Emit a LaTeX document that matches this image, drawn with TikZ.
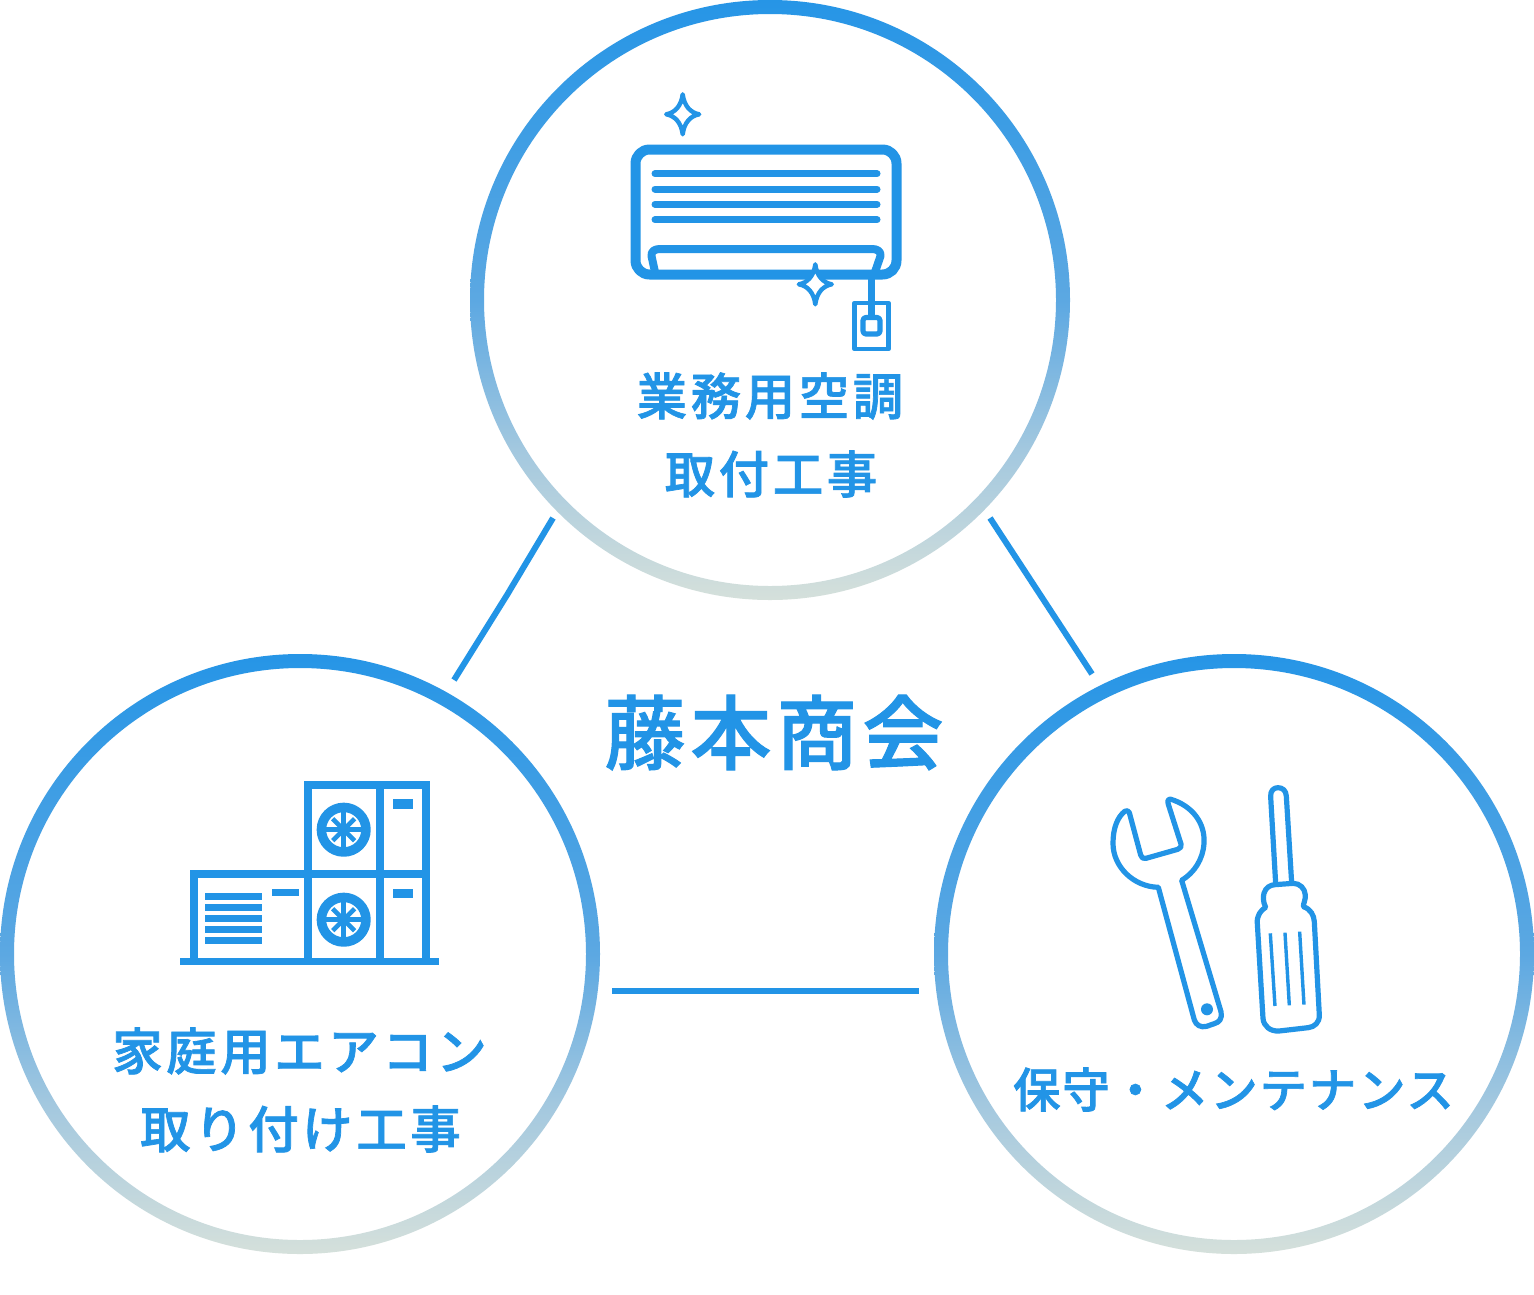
\documentclass[tikz,border=0pt]{standalone}
\usepackage{fontspec}
\newfontfamily\jpfont[LetterSpace=7.2]{Noto Sans CJK JP Medium}
\newfontfamily\jpfontk[LetterSpace=4]{Noto Sans CJK JP Medium}
\newfontfamily\jpfontb[LetterSpace=6.2]{Noto Sans CJK JP Medium}
\definecolor{bl}{HTML}{2294E6}
\definecolor{ringtop}{HTML}{2695E6}
\definecolor{ringa}{HTML}{5CA8E2}
\definecolor{ringb}{HTML}{A3C8DF}
\definecolor{ringbot}{HTML}{D5E0DB}
\pgfdeclareverticalshading{ringsh}{100bp}{color(0bp)=(ringbot); color(25bp)=(ringbot); color(37.5bp)=(ringb); color(50bp)=(ringa); color(75bp)=(ringtop); color(100bp)=(ringtop)}
\newcommand{\heavy}[2]{\special{pdf:code 2 Tr #1 w}#2\special{pdf:code 0 Tr}}
\tikzset{
  conn/.style={bl,line width=6pt},
  label/.style={text=bl,font=\fontsize{50.4}{50}\selectfont\jpfont,inner sep=0pt,anchor=center},
  labelk/.style={text=bl,font=\fontsize{47.4}{47}\selectfont\jpfontk,inner sep=0pt,anchor=center},
  title/.style={text=bl,font=\fontsize{81}{80}\selectfont\jpfontb,inner sep=0pt,anchor=center},
  ic/.style={bl,line width=#1,line join=round},
  sparkle/.style={bl,fill=white,line width=4.4pt,line cap=round,line join=round},
  box/.style={fill=bl,draw=none},
}
\newcommand{\ringat}[2]{%
  \shade[shading=ringsh,even odd rule]
    (#1,#2) circle (300) (#1,#2) circle (286);}
\newcommand{\sparkleat}[2]{%
  \draw[sparkle,shift={(#1,#2)}] (0,-20) .. controls (1.5,-8) and (8,-1.5) .. (16.5,0)
     .. controls (8,1.5) and (1.5,8) .. (0,20)
     .. controls (-1.5,8) and (-8,1.5) .. (-16.5,0)
     .. controls (-8,-1.5) and (-1.5,-8) .. cycle;}
\newcommand{\fanat}[2]{%
  \draw[ic=9.5pt] (#1,#2) circle (22.3);
  \foreach \a in {0,90,180,270}{\draw[ic=4.6pt] (#1,#2) -- ++(\a:18);}
  \foreach \a in {45,135,225,315}{\draw[ic=4.6pt] (#1,#2) -- ++(\a:15.5);}
  \fill[bl] (#1,#2) circle (4);}
\begin{document}
\begin{tikzpicture}[x=1pt,y=-1pt]
\useasboundingbox (0,0) rectangle (1534,1294);
\fill[white] (0,0) rectangle (1534,1294);
\ringat{770}{300}
\ringat{300}{954}
\ringat{1234}{954}
% connectors
\coordinate (c1a) at (553,518);
\coordinate (c1m) at (507,595);
\coordinate (c1b) at (454,680);
\coordinate (c2a) at (990,518);
\coordinate (c2b) at (1092,674);
\coordinate (c3a) at (612,990.5);
\coordinate (c3b) at (919,990.5);
\draw[conn] (c1a) -- (c1m) -- (c1b);
\draw[conn] (c2a) -- (c2b);
\draw[conn] (c3a) -- (c3b);
% texts
\node[title] (t0) at (774,732.5) {\heavy{1.0}{藤本商会}};
\node[label] (t1) at (770,396) {\heavy{0.7}{業務用空調}};
\node[label] (t2) at (771,474) {\heavy{0.7}{取付工事}};
\node[label] (t3) at (299.5,1051) {\heavy{0.7}{家庭用エアコン}};
\node[label] (t4) at (300.5,1129) {\heavy{0.7}{取り付け工事}};
\node[labelk] (t5) at (1233.5,1089.5) {\heavy{0.7}{保守・メンテナンス}};
% air conditioner
\draw[ic=10pt] (649.5,149.5) -- (882.5,149.5) arc (-90:0:14) -- (896.5,260.5) arc (0:90:14) -- (649.5,274.5) arc (90:180:14) -- (635.5,163.5) arc (180:270:14) -- cycle;
\foreach \y in {173.7,189,204.3,219.7}{\draw[ic=7pt,line cap=round] (655,\y) -- (877,\y);}
\draw[ic=8pt] (655,272) -- (651.5,256) .. controls (651,251) and (655,249) .. (660,249) -- (872,249) .. controls (877,249) and (881,251) .. (880.5,256) -- (875,272);
\draw[ic=7pt] (871,274) -- (871,318);
\draw[ic=4.6pt] (854.5,303) rectangle (888.5,349);
\draw[ic=5.2pt,rounded corners=3pt] (863,317.5) rectangle (880,334);
\sparkleat{682.7}{114.3}
\sparkleat{815.3}{284.3}
% outdoor units
\draw[ic=8pt,line join=miter] (307.7,958) -- (307.7,785.3) -- (426,785.3) -- (426,958);
\draw[ic=8pt] (380,785) -- (380,958);
\draw[ic=8pt,line join=miter] (194,958) -- (194,874.3) -- (426,874.3);
\fill[box] (180,958) rectangle (439,965.3);
\fanat{343.7}{829.7}
\fanat{343.7}{919.7}
\fill[box] (392.7,799.3) rectangle (413,808.7);
\fill[box] (392.7,889) rectangle (413,898.3);
\fill[box] (271.7,889) rectangle (299,896);
\foreach \y in {893,904,915,926,937}{\fill[box] (205.3,\y) rectangle (261.7,\y+6.7);}
% tools
\begin{scope}[shift={(1090,770)},x=0.3333pt,y=-0.3333pt]
\draw[ic=5.2pt]
 (240,87) .. controls (308,107) and (346,160) .. (342,220)
 .. controls (339,268) and (313,308) .. (275,331)
 -- (393,725) .. controls (398,745) and (388,757) .. (373,761)
 -- (350,769) .. controls (332,774) and (318,765) .. (313,750)
 -- (205,352) .. controls (130,350) and (69,290) .. (69,220)
 .. controls (69,175) and (82,142) .. (104,124)
 .. controls (110,120) and (116,122) .. (118,128)
 -- (152,255) .. controls (154,264) and (160,267) .. (168,265)
 -- (263,238) .. controls (272,235) and (275,230) .. (273,222)
 -- (235,103) .. controls (232,93) and (234,86) .. cycle;
\fill[bl] (351,718) circle (18);
\draw[ic=5.2pt] (557,340) -- (542,80) .. controls (541,62) and (551,53) .. (564,53)
 .. controls (578,53) and (588,62) .. (589,78) -- (605,338);
\draw[ic=5.2pt]
 (527,412) .. controls (518,395) and (520,378) .. (522,370)
 .. controls (527,352) and (541,345) .. (555,344)
 -- (610,340) .. controls (630,340) and (645,356) .. (646,375)
 .. controls (647,390) and (640,400) .. (640,410)
 .. controls (662,417) and (672,436) .. (673,455)
 -- (688,735) .. controls (689,758) and (673,771) .. (655,773)
 -- (568,783) .. controls (541,785) and (521,769) .. (519,745)
 -- (502,460) .. controls (500,437) and (512,421) .. cycle;
\foreach \a/\b/\c/\d in {541/490/555/708,585/488/598/706,629/485/642/704}{\draw[ic=3.4pt] (\a,\b) -- (\c,\d);}
\end{scope}
\end{tikzpicture}
\end{document}
